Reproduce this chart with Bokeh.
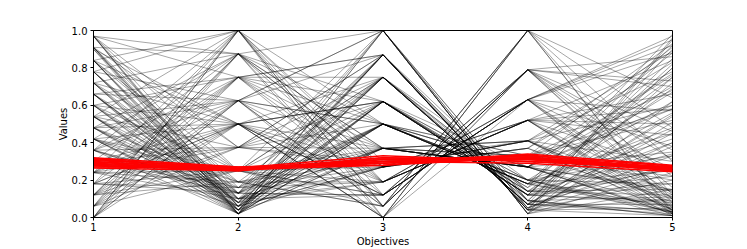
from bokeh.plotting import figure
from bokeh.models import FixedTicker, PrintfTickFormatter, Range1d
from bokeh.embed import file_html
from bokeh.resources import INLINE

objectives = [1, 2, 3, 4, 5]
x_tick_labels = ["1", "2", "3", "4", "5"]
y_ticks = [0.0, 0.2, 0.4, 0.6, 0.8, 1.0]

# black (all) solutions, one value per objective
obj1 = [0.48, 0.24, 0.06, 0.72, 0.36, 0.60, 0.12, 0.30, 0.84, 0.54, 0.18, 0.0, 0.91, 0.42, 0.66,
        0.78, 0.24, 0.06, 0.48, 0.97, 0.30, 0.66, 0.12, 0.36, 0.84, 0.0, 0.54, 0.72, 0.18, 0.42,
        0.90, 0.06, 0.60, 0.30, 0.78, 0.12, 0.48, 0.66, 0.0, 0.36, 0.97, 0.54, 0.24, 0.84, 0.06,
        0.42, 0.72, 0.18, 0.90, 0.30, 0.60, 0.66, 0.12, 0.97, 0.36, 0.48, 0.78, 0.24, 0.91, 0.84,
        0.97, 0.72, 0.54, 0.60, 0.42, 0.18, 0.30, 0.36, 0.42, 0.54, 0.66, 0.78, 0.91, 0.84, 0.0,
        0.06, 0.12, 0.24, 0.0, 0.18, 0.30, 0.48, 0.60, 0.72, 0.90, 0.97, 0.84, 0.66, 0.54, 0.36,
        0.42, 0.78, 0.60, 0.48, 0.24, 0.18, 0.12, 0.06, 0.91, 0.97,
        0.84, 0.72, 0.91, 0.66, 0.78, 0.60, 0.54, 0.97, 0.48, 0.42, 0.36, 0.30, 0.24, 0.18, 0.12,
        0.06, 0.0, 0.91, 0.78, 0.66, 0.48, 0.36, 0.24, 0.12, 0.0, 0.54, 0.97, 0.84, 0.72, 0.42]
obj2 = [0.02, 0.25, 0.625, 0.08, 0.13, 0.04, 0.375, 0.16, 0.06, 0.02, 0.25, 0.75, 0.10, 0.19, 0.04,
        0.02, 0.375, 0.5, 0.13, 0.06, 0.25, 0.08, 0.625, 0.16, 0.02, 0.875, 0.10, 0.04, 0.5, 0.25,
        0.02, 0.75, 0.13, 0.375, 0.06, 0.875, 0.19, 0.10, 1.0, 0.375, 0.04, 0.16, 0.625, 0.08, 1.0,
        0.5, 0.13, 0.75, 0.10, 0.5, 0.25, 0.19, 0.875, 0.25, 0.625, 0.5, 0.625, 1.0, 0.375, 0.5,
        0.75, 0.875, 1.0, 0.75, 0.875, 0.13, 0.06, 0.02, 0.04, 0.06, 0.02, 0.13, 0.16, 0.19, 0.625,
        0.875, 0.5, 0.75, 0.5, 1.0, 0.875, 0.625, 0.5, 0.25, 0.5, 0.875, 1.0, 0.625, 0.375, 0.75,
        0.02, 0.04, 0.08, 0.06, 0.10, 0.16, 0.19, 0.25, 0.02, 0.13,
        0.04, 0.02, 0.06, 0.08, 0.10, 0.02, 0.04, 0.02, 0.08, 0.06, 0.10, 0.13, 0.19, 0.5, 0.25,
        0.375, 0.625, 0.875, 1.0, 0.75, 0.875, 1.0, 0.5, 0.75, 1.0, 0.625, 0.375, 0.25, 0.5, 0.13]
obj3 = [1.0, 1.0, 1.0, 1.0, 1.0, 0.87, 0.87, 0.87, 0.87, 0.75, 0.75, 0.75, 0.75, 0.75, 0.75,
        0.62, 0.62, 0.62, 0.62, 0.62, 0.62, 0.50, 0.50, 0.50, 0.50, 0.50, 0.50, 0.37, 0.37, 0.37,
        0.37, 0.37, 0.37, 0.30, 0.27, 0.27, 0.30, 0.27, 0.27, 0.27, 0.27, 0.19, 0.19, 0.19, 0.19,
        0.19, 0.12, 0.12, 0.12, 0.12, 0.12, 0.06, 0.06, 0.06, 0.06, 0.0, 0.0, 0.0, 0.75, 0.62,
        0.50, 0.37, 0.30, 0.87, 0.62, 0.87, 0.62, 0.50, 0.75, 0.87, 0.37, 0.50, 0.62, 0.37, 0.87,
        1.0, 0.27, 0.19, 0.12, 0.06, 0.0, 0.06, 0.0, 0.19, 0.12, 0.27, 0.06, 0.37, 0.50, 0.62,
        1.0, 0.87, 0.75, 0.50, 0.37, 0.27, 0.19, 0.12, 0.62, 0.75,
        0.62, 0.75, 0.50, 0.87, 0.37, 0.50, 0.62, 0.87, 0.37, 0.27, 0.19, 0.12, 0.06, 0.0, 0.27,
        0.37, 0.50, 0.19, 0.12, 0.27, 0.37, 0.50, 0.75, 0.87, 1.0, 1.0, 0.87, 0.75, 0.62, 0.50]
obj4 = [0.02, 0.02, 0.02, 0.05, 0.09, 0.04, 0.04, 0.09, 0.14, 0.07, 0.07, 0.07, 0.07, 0.14, 0.20,
        0.12, 0.12, 0.12, 0.16, 0.20, 0.27, 0.18, 0.18, 0.18, 0.20, 0.27, 0.33, 0.27, 0.27, 0.27,
        0.33, 0.41, 0.27, 0.33, 0.37, 0.37, 0.33, 0.41, 0.41, 0.41, 0.52, 0.52, 0.52, 0.52, 0.63,
        0.52, 0.63, 0.63, 0.63, 0.79, 0.63, 0.79, 0.79, 0.79, 1.0, 1.0, 0.79, 0.63, 0.09, 0.16,
        0.20, 0.33, 0.41, 0.05, 0.14, 0.04, 0.12, 0.27, 0.07, 0.04, 0.41, 0.18, 0.14, 0.27, 0.04,
        0.02, 0.52, 0.63, 0.79, 1.0, 1.0, 1.0, 0.79, 0.52, 0.63, 0.37, 0.79, 0.27, 0.18, 0.12,
        0.05, 0.07, 0.12, 0.33, 0.41, 0.52, 0.63, 0.79, 0.12, 0.07,
        0.14, 0.09, 0.20, 0.04, 0.33, 0.18, 0.12, 0.05, 0.27, 0.41, 0.52, 0.63, 0.79, 1.0, 0.37,
        0.27, 0.18, 0.52, 0.63, 0.41, 0.27, 0.20, 0.07, 0.04, 0.02, 0.09, 0.09, 0.14, 0.20, 0.27]
obj5 = [0.62, 0.15, 0.95, 0.33, 0.80, 0.05, 0.45, 0.72, 0.22, 0.90, 0.28, 0.02, 0.55, 0.12, 0.67,
        0.40, 0.85, 0.08, 0.98, 0.18, 0.03, 0.75, 0.25, 0.48, 0.01, 0.60, 0.10, 0.88, 0.35, 0.06,
        0.52, 0.14, 0.70, 0.20, 0.93, 0.04, 0.58, 0.30, 0.78, 0.01, 0.44, 0.12, 0.66, 0.02, 0.26,
        0.84, 0.38, 0.05, 0.97, 0.16, 0.57, 0.08, 0.46, 0.73, 0.03, 0.30, 0.10, 0.88, 0.01, 0.62,
        0.05, 0.22, 0.08, 0.40, 0.69, 0.10, 0.80, 0.15, 0.47, 0.27, 0.04, 0.92, 0.34, 0.58, 0.20,
        0.51, 0.06, 0.95, 0.36, 0.12, 0.64, 0.02, 0.86, 0.25, 0.10, 0.83, 0.31, 0.02, 0.42, 0.09,
        0.75, 0.54, 0.18, 0.91, 0.07, 0.50, 0.13, 0.70, 0.26, 0.04,
        0.15, 0.03, 0.45, 0.01, 0.68, 0.06, 0.82, 0.38, 0.02, 0.60, 0.04, 0.92, 0.22, 0.48, 0.11,
        0.77, 0.03, 0.58, 0.02, 0.89, 0.14, 0.33, 0.07, 0.96, 0.24, 0.11, 0.01, 0.56, 0.03, 0.76]

# highlighted (red) solutions
red1 = [0.32, 0.31, 0.30, 0.295, 0.29, 0.285, 0.28, 0.275, 0.27, 0.305, 0.265, 0.315]
red2 = [0.27, 0.265, 0.26, 0.26, 0.255, 0.255, 0.25, 0.26, 0.265, 0.27, 0.25, 0.255]
red3 = [0.28, 0.29, 0.30, 0.31, 0.32, 0.30, 0.31, 0.29, 0.33, 0.30, 0.32, 0.28]
red4 = [0.34, 0.33, 0.32, 0.31, 0.30, 0.335, 0.325, 0.315, 0.30, 0.29, 0.31, 0.32]
red5 = [0.28, 0.275, 0.27, 0.265, 0.26, 0.255, 0.25, 0.26, 0.27, 0.245, 0.25, 0.265]

black_ys = [list(r) for r in zip(obj1, obj2, obj3, obj4, obj5)]
black_xs = [objectives for _ in black_ys]
red_ys = [list(r) for r in zip(red1, red2, red3, red4, red5)]
red_xs = [objectives for _ in red_ys]

p = figure(width=747, height=249, output_backend="svg", toolbar_location=None,
           x_range=Range1d(1, 5), y_range=Range1d(0, 1),
           min_border_left=93, min_border_right=75, min_border_top=30, min_border_bottom=28)

p.multi_line(black_xs, black_ys, line_color="black", line_width=0.5, line_alpha=0.7)
p.multi_line(red_xs, red_ys, line_color="red", line_width=1.5, line_alpha=1.0)

p.xgrid.visible = False
p.ygrid.visible = False
p.outline_line_color = "black"
p.outline_line_width = 1
p.outline_line_alpha = 1.0

p.xaxis.ticker = FixedTicker(ticks=objectives)
p.xaxis.major_label_overrides = {i: s for i, s in zip(objectives, x_tick_labels)}
p.yaxis.ticker = FixedTicker(ticks=y_ticks)
p.yaxis.formatter = PrintfTickFormatter(format="%.1f")
p.xaxis.axis_label = "Objectives"
p.yaxis.axis_label = "Values"
for ax in (p.xaxis[0], p.yaxis[0]):
    ax.minor_tick_line_color = None
    ax.major_tick_in = 0
    ax.major_tick_out = 3
    ax.major_tick_line_color = "black"
    ax.axis_line_color = "black"
    ax.major_label_text_font = "DejaVu Sans"
    ax.major_label_text_font_size = "10px"
    ax.major_label_text_color = "black"
    ax.axis_label_text_font = "DejaVu Sans"
    ax.axis_label_text_font_size = "10px"
    ax.axis_label_text_font_style = "normal"
    ax.axis_label_text_color = "black"
p.xaxis.major_label_standoff = 2
p.xaxis.axis_label_standoff = 2
p.yaxis.major_label_standoff = 3
p.yaxis.axis_label_standoff = 0

open("out.html", "w").write(file_html(p, INLINE))
